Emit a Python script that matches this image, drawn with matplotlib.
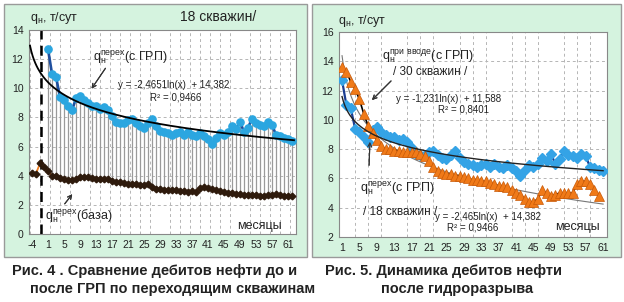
import matplotlib.pyplot as plt
import numpy as np
from matplotlib.patches import Rectangle

W, H = 624, 302

plt.rcParams.update({
    "font.family": ["Liberation Sans", "DejaVu Sans"],
    "font.size": 7,
})

BOX = "#d5f3df"
EDGE = "#9a9a9a"
GRID = "#b5b5b5"
INK = "#222222"

# --- data -----------------------------------------------------------------
# left chart: category axis -4..-1, 1..62 (no month 0)
left_months = [-4, -3, -2, -1] + list(range(1, 64))
left_tick_labels = ["-4"] + [str(m) for m in range(1, 62, 4)]

# q_н перех (с ГРП), months 1..62
blue = [12.7, 11.0, 10.8, 9.4, 9.2, 8.8, 8.5, 9.3, 9.5, 9.2,
        9.0, 8.8, 8.8, 8.6, 8.7, 8.5, 8.1, 7.7, 7.6, 7.6,
        7.8, 7.9, 7.6, 7.4, 7.3, 7.6, 7.9, 7.4, 7.1, 7.0,
        6.9, 6.8, 6.9, 7.0, 6.8, 7.0, 6.8, 6.7, 6.9, 6.7,
        6.5, 6.2, 6.6, 6.9, 6.8, 7.0, 7.4, 7.2, 7.7, 7.0,
        7.3, 7.9, 7.6, 7.5, 7.4, 7.7, 7.5, 6.8, 6.7, 6.6,
        6.5, 6.4]

# q_н перех (база), from the first category on
base = [4.2, 4.15, 4.85, 4.6, 4.3, 4.0, 3.95, 3.85, 3.75, 3.7,
        3.7, 3.8, 3.9, 3.9, 3.9, 3.85, 3.8, 3.8, 3.8, 3.75,
        3.65, 3.6, 3.55, 3.5, 3.45, 3.4, 3.4, 3.35, 3.35, 3.45,
        3.2, 3.1, 3.1, 3.05, 3.05, 3.0, 3.0, 2.95, 2.95, 2.9,
        2.95, 2.9, 3.15, 3.2, 3.15, 3.1, 3.05, 2.95, 2.85, 2.8,
        2.8, 2.75, 2.75, 2.7, 2.7, 2.7, 2.65, 2.6, 2.6, 2.7,
        2.7, 2.75, 2.65, 2.6, 2.6, 2.6]

# right chart: q_н при вводе (с ГРП), 30 wells, months 1..60
inj = [13.6, 13.3, 12.6, 12.1, 11.4, 10.4, 9.6, 9.1, 8.6, 8.2,
       8.0, 8.0, 7.9, 7.9, 7.8, 7.8, 7.8, 7.8, 7.7, 7.5,
       7.2, 6.8, 6.5, 6.4, 6.3, 6.3, 6.2, 6.2, 6.1, 6.0,
       5.9, 5.9, 5.8, 5.8, 5.7, 5.6, 5.5, 5.5, 5.4, 5.2,
       5.0, 4.9, 4.6, 4.4, 4.4, 4.6, 5.2, 5.0, 4.8, 4.9,
       5.0, 5.0, 5.0, 5.0, 5.6, 5.8, 5.8, 5.6, 5.2, 4.8]
right_blue = blue[:61]
right_ticks = list(range(1, 62, 4))

# trend coefficients printed on the right chart
trend_inj = (-2.465, 14.382)
trend_blue = (-1.231, 11.588)


def fx(x):
    return x / W


def fy(y):
    return 1 - y / H


def px_axes(x0, y0, x1, y1):
    return [fx(x0), fy(y1), (x1 - x0) / W, (y1 - y0) / H]


fig = plt.figure(figsize=(W / 100, H / 100), dpi=100)

# panel boxes
for x0, x1 in [(4, 307), (312, 621)]:
    fig.patches.append(Rectangle((fx(x0), fy(257)), (x1 - x0) / W, 253 / H,
                                 transform=fig.transFigure, facecolor=BOX,
                                 edgecolor=EDGE, linewidth=1, zorder=-10))


def style(ax):
    ax.set_facecolor("white")
    for s in ax.spines.values():
        s.set_color("#888888")
        s.set_linewidth(0.8)
    ax.tick_params(length=0, labelsize=7.5, colors=INK, pad=4)
    ax.grid(True, color=GRID, linestyle=(0, (3, 3)), linewidth=0.7)
    ax.set_axisbelow(True)


# ---------------- left chart ----------------
axl = fig.add_axes(px_axes(29, 30, 296, 234))
style(axl)
pos = np.arange(len(left_months))
bpos = pos[4:4 + len(blue)]
opos = pos[:len(base)]
axl.set_xlim(-0.75, 66)
axl.set_ylim(0, 14)
axl.set_yticks(range(0, 15, 2))
axl.set_xticks(pos[::4][:len(left_tick_labels)], left_tick_labels)
axl.set_xticks(np.arange(-0.5, 66, 2.5), minor=True)
axl.grid(False, axis="x", which="major")
axl.grid(True, axis="x", which="minor", color=GRID, linestyle=(0, (3, 3)), linewidth=0.7)
axl.tick_params(which="minor", length=0)

base_arr = np.array(base)
blue_arr = np.array(blue)
axl.vlines(bpos, base_arr[4:4 + len(blue)], blue_arr, color="#9a9a9a", linewidth=0.9, zorder=1)
axl.axvline(2.3, color="black", linestyle=(0, (4, 2.5)), linewidth=1.8, zorder=2)
axl.plot(opos, base, color="#f07d1e", linewidth=1.3, zorder=3)
axl.plot(opos, base, "D", color="#2e1a0c", markersize=3.4, zorder=4)
axl.plot(bpos, blue, color="#1f4f9e", linewidth=1.9, zorder=3)
axl.plot(bpos, blue, "o", color="#2ba6e0", markersize=5.2, zorder=4)

k, c = np.polyfit(np.log(bpos + 1.0), blue_arr, 1)
xt = np.linspace(-0.5, 65.5, 200)
axl.plot(xt, k * np.log(xt + 1.0 + 0.7) + c, color="black", linewidth=1.3, zorder=5)

# ---------------- right chart ----------------
axr = fig.add_axes(px_axes(339, 32, 607, 237))
style(axr)
axr.set_xlim(0.3, 61.9)
axr.set_ylim(2, 16)
axr.set_yticks(range(2, 17, 2))
axr.set_xticks(right_ticks)
axr.set_xticks(np.arange(1, 62, 3), minor=True)
axr.grid(False, axis="x", which="major")
axr.grid(True, axis="x", which="minor", color=GRID, linestyle=(0, (3, 3)), linewidth=0.7)
axr.tick_params(which="minor", length=0)

mb = np.arange(1, len(right_blue) + 1)
mi = np.arange(1, len(inj) + 1)
xt = np.linspace(1, 61, 200)
axr.plot(xt, trend_inj[0] * np.log(xt) + trend_inj[1], color="#777777", linewidth=0.8, zorder=2)
axr.plot(mb, right_blue, color="#1c3d91", linewidth=1.6, zorder=3)
axr.plot(mb, right_blue, "D", color="#34a3e6", markersize=5.6, zorder=4)
axr.plot(mi, inj, color="black", linewidth=1.2, zorder=3)
axr.plot(mi, inj, "^", color="#f07a18", markeredgecolor="#c85a08",
         markeredgewidth=0.5, markersize=6.6, zorder=4)
axr.plot(xt, trend_blue[0] * np.log(xt) + trend_blue[1], color="#222222", linewidth=1.0, zorder=5)

# ---------------- texts ----------------
def t(x, y, s, **kw):
    kw.setdefault("color", INK)
    kw.setdefault("fontsize", 7)
    fig.text(fx(x), fy(y), s, **kw)


def arrow(x0, y0, x1, y1):
    fig.add_artist(plt.annotate("", xy=(fx(x1), fy(y1)), xytext=(fx(x0), fy(y0)),
                                xycoords="figure fraction",
                                arrowprops=dict(arrowstyle="->", color="#333333", lw=0.8)))


t(30, 18, r"q$_{\mathregular{н}}$, т/сут", fontsize=9, va="center")
t(180, 17, "18 скважин/", fontsize=10, va="center")
t(93, 57, r"q$_{\mathregular{н}}^{\mathregular{перех}}$(с ГРП)", fontsize=9, va="center")
arrow(107, 66, 90, 91)
t(118, 85, "y = -2,4651ln(x)  + 14,382", va="center")
t(150, 97, "R² = 0,9466", va="center")
t(45, 216, r"q$_{\mathregular{н}}^{\mathregular{перех}}$(база)", fontsize=9, va="center")
arrow(63, 206, 74, 192)
t(237, 226, "месяцы", fontsize=9, va="center")

t(338, 21, r"q$_{\mathregular{н}}$, т/сут", fontsize=9, va="center")
t(382, 56, r"q$_{\mathregular{н}}^{\mathregular{при\ вводе}}$(с ГРП)", fontsize=9, va="center")
t(393, 72, "/ 30 скважин /", fontsize=8.5, va="center")
arrow(393, 79, 370, 102)
t(396, 99, "y = -1,231ln(x)  + 11,588", va="center")
t(438, 110, "R² = 0,8401", va="center")
t(360, 188, r"q$_{\mathregular{н}}^{\mathregular{перех}}$(с ГРП)", fontsize=9, va="center")
t(363, 212, "/ 18 скважин /", fontsize=8.5, va="center")
arrow(369, 168, 370, 139)
t(435, 217, "y = -2,465ln(x)  + 14,382", va="center")
t(447, 228, "R² = 0,9466", va="center")
t(555, 227, "месяцы", fontsize=9, va="center")

t(12, 271, "Рис. 4 . Сравнение дебитов нефти до и", fontsize=10.5, weight="bold", va="center")
t(30, 289, "после ГРП по переходящим скважинам", fontsize=10.5, weight="bold", va="center")
t(325, 271, "Рис. 5. Динамика дебитов нефти", fontsize=10.5, weight="bold", va="center")
t(457, 289, "после гидроразрыва", fontsize=10.5, weight="bold", va="center", ha="center")

fig.savefig("out.png", dpi=100)
